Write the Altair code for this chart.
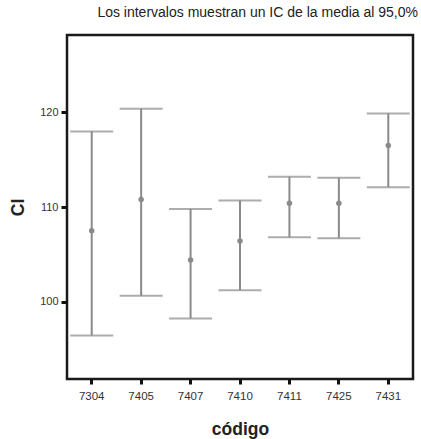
import altair as alt
import pandas as pd

# Group codes and the 95% confidence interval of the mean for each
codigos = ["7304", "7405", "7407", "7410", "7411", "7425", "7431"]
media = [107.5, 110.8, 104.4, 106.4, 110.4, 110.4, 116.5]
limite_inf = [96.4, 100.6, 98.2, 101.2, 106.8, 106.7, 112.1]
limite_sup = [118.0, 120.4, 109.8, 110.7, 113.2, 113.1, 119.9]

df = pd.DataFrame({
    "codigo": codigos,
    "media": media,
    "inf": limite_inf,
    "sup": limite_sup,
})

FONT = "Liberation Sans"
GREY = "#8a8a8a"

x_enc = alt.X(
    "codigo:N",
    sort=codigos,
    title="código",
    scale=alt.Scale(paddingInner=0, paddingOuter=0),
    axis=alt.Axis(
        labelAngle=0, labelFontSize=11.5, labelColor="#333333", labelFont=FONT,
        labelPadding=6, tickSize=5, tickWidth=3, tickColor="#111111",
        domain=False, titleFont=FONT, titleFontSize=17.5, titleFontWeight="bold",
        titleColor="#222222", titlePadding=19,
    ),
)

y_scale = alt.Scale(domain=[91.8, 128.2], nice=False, zero=False)
y_axis = alt.Axis(
    values=[100, 110, 120], grid=False, domain=False,
    labelFontSize=11, labelColor="#333333", labelFont=FONT, labelPadding=3,
    tickSize=6, tickWidth=3, tickColor="#111111",
    titleFont=FONT, titleFontSize=17.5, titleFontWeight="bold",
    titleColor="#222222", titlePadding=12,
)

base = alt.Chart(df)

stems = base.mark_rule(color=GREY, strokeWidth=2).encode(
    x=x_enc,
    y=alt.Y("inf:Q", scale=y_scale, axis=y_axis, title="CI"),
    y2="sup:Q",
)

caps_top = base.mark_tick(color=GREY, size=43, thickness=2).encode(
    x=alt.X("codigo:N", sort=codigos),
    y=alt.Y("sup:Q", scale=y_scale),
)

caps_bottom = base.mark_tick(color=GREY, size=43, thickness=2).encode(
    x=alt.X("codigo:N", sort=codigos),
    y=alt.Y("inf:Q", scale=y_scale),
)

means = base.mark_point(filled=True, shape="circle", size=30, color=GREY, opacity=1).encode(
    x=alt.X("codigo:N", sort=codigos),
    y=alt.Y("media:Q", scale=y_scale),
)

chart = (
    alt.layer(stems, caps_top, caps_bottom, means)
    .properties(
        width=346,
        height=344,
        background="white",
        title=alt.TitleParams(
            "Los intervalos muestran un IC de la media al 95,0%",
            anchor="end", font=FONT, fontSize=14, fontWeight="normal",
            color="#222222", offset=15, dx=5,
        ),
        autosize=alt.AutoSizeParams(type="none"),
        padding={"left": 67, "top": 35, "right": 8, "bottom": 60},
    )
    .configure_view(stroke="#1a1a1a", strokeWidth=2.5)
)

chart.save("out.html", embed_options={"renderer": "svg", "actions": False})
